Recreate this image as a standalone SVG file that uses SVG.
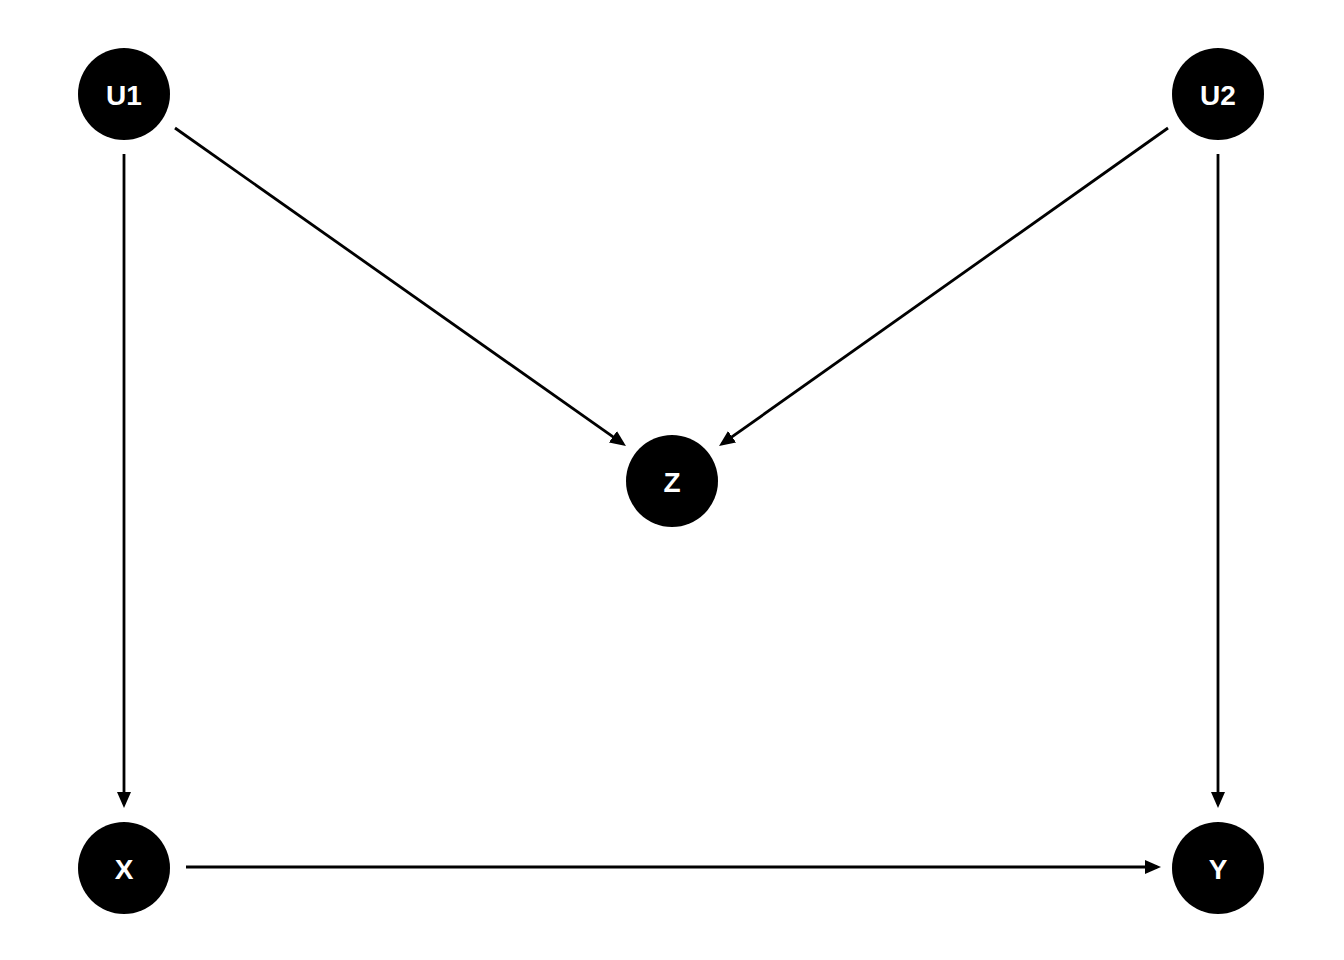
<svg xmlns="http://www.w3.org/2000/svg" width="1344" height="960" viewBox="0 0 1344 960">
<style>
.node{fill:#000;}
.lbl{fill:#fff;font-family:"Liberation Sans",Arial,sans-serif;font-weight:bold;font-size:28px;text-anchor:middle;dominant-baseline:central;}
.edge{stroke:#000;stroke-width:2.8;fill:none;marker-end:url(#ah);}
</style>
<defs>
<marker id="ah" viewBox="0 0 16 14" refX="12" refY="7" markerWidth="16" markerHeight="14" markerUnits="userSpaceOnUse" orient="auto">
<path d="M0,0 L16,7 L0,14 Z" fill="#000"/>
</marker>
</defs>
<rect width="1344" height="960" fill="#fff"/>
<g id="edges">
<line class="edge" x1="124" y1="154" x2="124" y2="804"/>
<line class="edge" x1="1218" y1="154" x2="1218" y2="804"/>
<line class="edge" x1="186" y1="867" x2="1157" y2="867"/>
<line class="edge" x1="175" y1="128" x2="622.7" y2="443.7"/>
<line class="edge" x1="1168" y1="128" x2="722.3" y2="443.7"/>
</g>
<g id="U1"><circle class="node" cx="124" cy="94" r="46"/><text class="lbl" x="124" y="95">U1</text></g>
<g id="U2"><circle class="node" cx="1218" cy="94" r="46"/><text class="lbl" x="1218" y="95">U2</text></g>
<g id="Z"><circle class="node" cx="672" cy="481" r="46"/><text class="lbl" x="672" y="482">Z</text></g>
<g id="X"><circle class="node" cx="124" cy="868" r="46"/><text class="lbl" x="124" y="869">X</text></g>
<g id="Y"><circle class="node" cx="1218" cy="868" r="46"/><text class="lbl" x="1218" y="869">Y</text></g>
</svg>
